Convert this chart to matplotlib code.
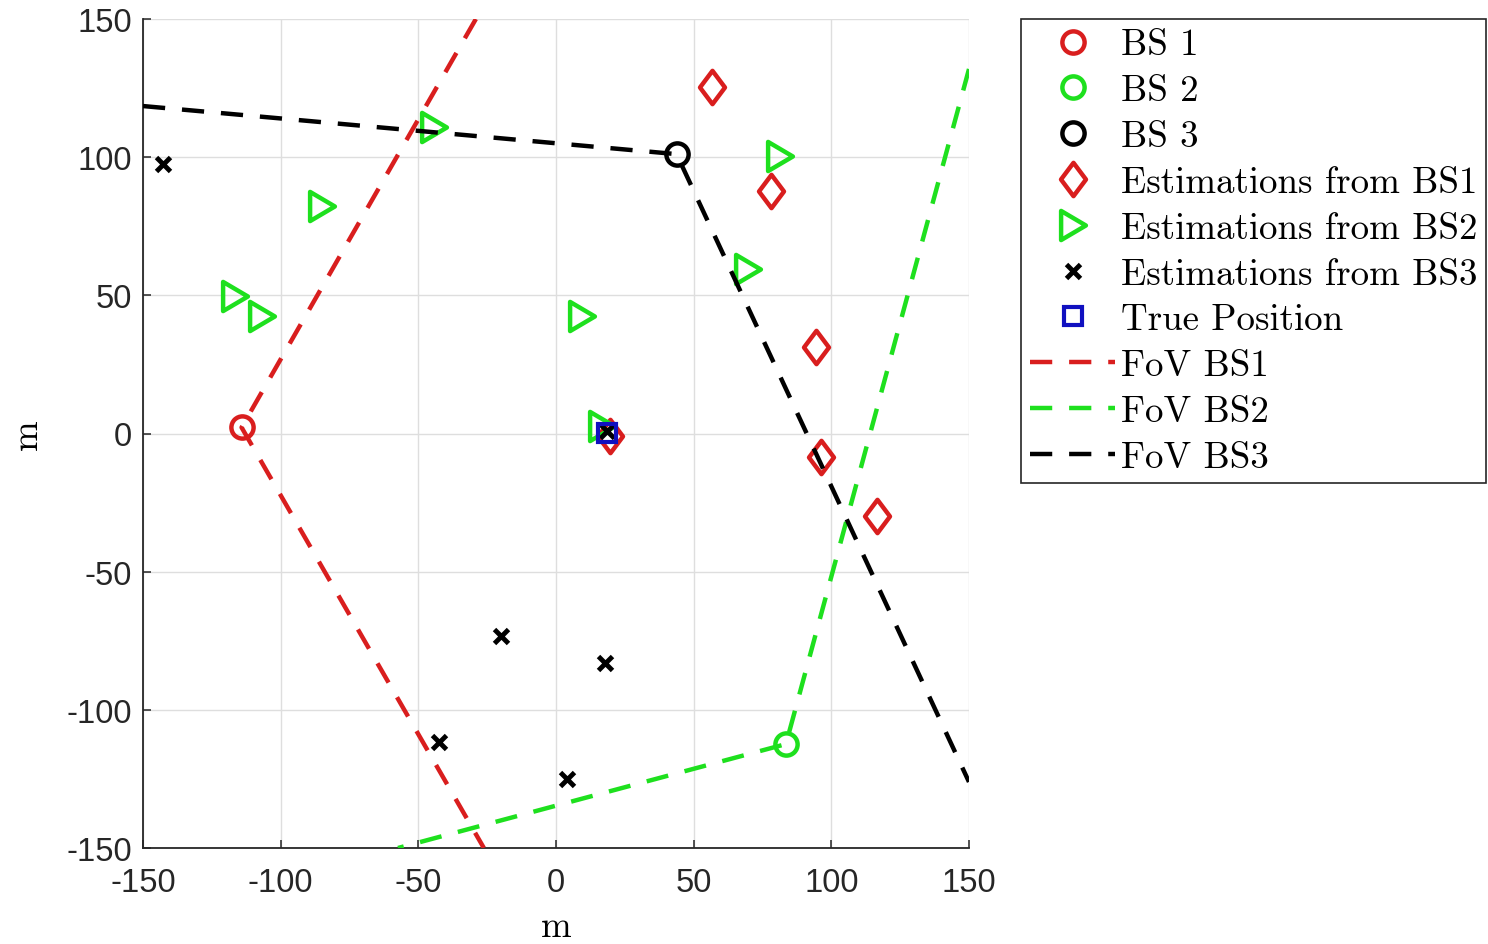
import matplotlib
matplotlib.use("Agg")
import matplotlib.pyplot as plt
from matplotlib.path import Path

plt.rcParams['axes.unicode_minus'] = False

# base station positions
bs_x = [-114.2, 83.5, 43.8]
bs_y = [2.2, -112.4, 101.1]
bs_labels = ['BS 1', 'BS 2', 'BS 3']

# position estimations from each base station
est1_x = [56.5, 78.0, 94.4, 96.2, 116.7, 19.6]
est1_y = [125.3, 87.9, 31.2, -8.6, -29.7, -0.8]
est2_x = [-44.3, -85.1, -116.6, -106.9, 9.3, 81.4, 69.9, 16.6]
est2_y = [110.8, 82.4, 49.9, 42.6, 42.6, 100.5, 59.5, 2.8]
est3_x = [-142.6, -20.1, 17.8, -42.4, 4.1, 18.4]
est3_y = [97.5, -73.2, -83.1, -111.8, -125.0, 0.9]

true_x = [18.4]
true_y = [0.2]

# field of view borders: edge point, BS, edge point
fov1_x = [-29.1, -114.2, -26.2]
fov1_y = [150, 2.2, -150]
fov2_x = [150, 83.5, -57.4]
fov2_y = [131.9, -112.4, -150]
fov3_x = [-150, 43.8, 150]
fov3_y = [118.5, 101.1, -126.1]

ticks = [-150, -100, -50, 0, 50, 100, 150]

red = '#d91e1e'
green = '#1ee01e'
black = 'black'
blue = '#1010c0'
bs_colors = [red, green, black]

# matlab-like diamond and right triangle
diamond = Path([(0, 1), (0.75, 0), (0, -1), (-0.75, 0), (0, 1)], closed=True)
tri_right = Path([(0.85, 0), (-0.85, 1), (-0.85, -1), (0.85, 0)], closed=True)

fig = plt.figure(figsize=(14.88, 9.45), dpi=100)
ax = fig.add_axes([143 / 1488, 96 / 945, 826 / 1488, 829 / 945])

for i in range(3):
    ax.plot(bs_x[i], bs_y[i], 'o', ms=16, mfc='none', mec=bs_colors[i], mew=3.2,
            label=bs_labels[i], zorder=3)

ax.plot(est1_x, est1_y, ls='none', marker=diamond, ms=24, mfc='none', mec=red,
        mew=3.2, label='Estimations from BS1', zorder=3)
ax.plot(est2_x, est2_y, ls='none', marker=tri_right, ms=21, mfc='none', mec=green,
        mew=3.2, label='Estimations from BS2', zorder=3)
ax.plot(est3_x, est3_y, ls='none', marker='x', ms=10, mec=black,
        mew=3.5, label='Estimations from BS3', zorder=3)
ax.plot(true_x, true_y, ls='none', marker='s', ms=13, mfc='none', mec=blue,
        mew=3, label='True Position', zorder=4)

dash = (0, (5, 3.8))
ax.plot(fov1_x, fov1_y, color=red, ls=dash, lw=3.2, label='FoV BS1', zorder=5)
ax.plot(fov2_x, fov2_y, color=green, ls=dash, lw=3.2, label='FoV BS2', zorder=5)
ax.plot(fov3_x, fov3_y, color=black, ls=dash, lw=3.2, label='FoV BS3', zorder=5)

ax.set_xlim(-150, 150)
ax.set_ylim(-150, 150)
ax.set_xticks(ticks)
ax.set_yticks(ticks)
ax.grid(True, color='#dedede', lw=1)
ax.set_axisbelow(True)
for side in ['top', 'right']:
    ax.spines[side].set_visible(False)
for side in ['left', 'bottom']:
    ax.spines[side].set_color('#262626')
    ax.spines[side].set_linewidth(1.3)
ax.tick_params(direction='in', length=6, width=1.1, color='#262626',
               labelsize=23.5, labelcolor='#262626')
ax.tick_params(axis='x', pad=14)
ax.tick_params(axis='y', pad=8)
for lab in ax.get_xticklabels() + ax.get_yticklabels():
    lab.set_fontfamily('Liberation Sans')

ax.set_xlabel('m', fontfamily='cmr10', fontsize=26.5, labelpad=8)
ax.set_ylabel('m', fontfamily='cmr10', fontsize=26.5, labelpad=16)

leg = ax.legend(loc='upper left', bbox_to_anchor=(1021 / 1488, 925 / 945),
                bbox_transform=fig.transFigure, prop={'family': 'cmr10', 'size': 26.6},
                fancybox=False, edgecolor='#262626', framealpha=1,
                handlelength=2.3, handletextpad=0.15, labelspacing=0.34,
                borderpad=0.25, borderaxespad=0)
leg.get_frame().set_linewidth(1.2)

fig.savefig('out.png', dpi=100)
